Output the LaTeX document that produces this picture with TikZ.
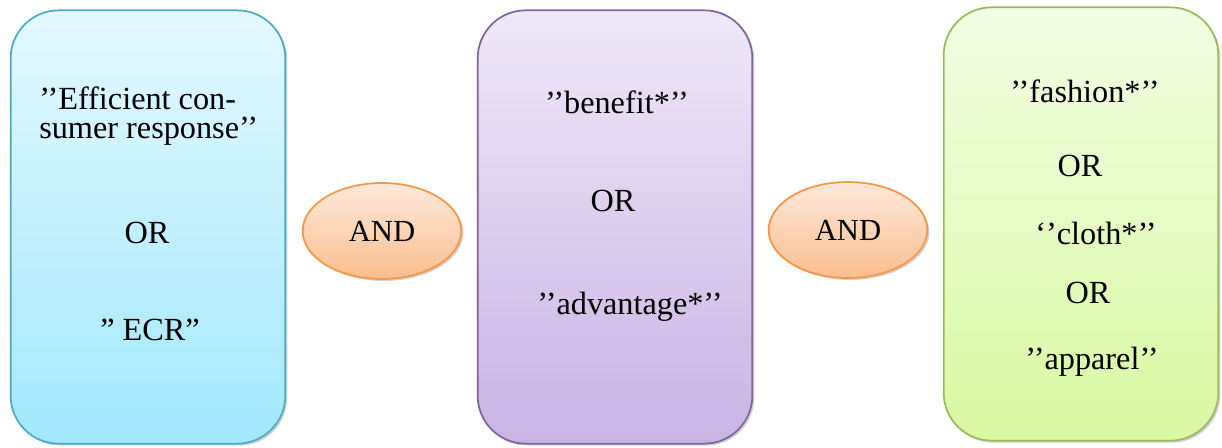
\documentclass[tikz,border=0pt]{standalone}
\usepackage{fontspec}
\setmainfont{Liberation Serif}
\usetikzlibrary{shapes.geometric,shadows}
\definecolor{bAtop}{HTML}{E4F8FE}
\definecolor{bAbot}{HTML}{A2E8FC}
\definecolor{bAline}{HTML}{4BACC6}
\definecolor{bBtop}{HTML}{EEE8F7}
\definecolor{bBbot}{HTML}{C8B4E3}
\definecolor{bBline}{HTML}{8064A2}
\definecolor{bCtop}{HTML}{F3FDE4}
\definecolor{bCbot}{HTML}{D9F8A2}
\definecolor{bCline}{HTML}{9BBB59}
\definecolor{elTop}{HTML}{FEE9DA}
\definecolor{elBot}{HTML}{FBBE8E}
\definecolor{elLine}{HTML}{F79646}
\tikzset{
  termbox/.style={draw, line width=1.3pt, rounded corners=36pt,
    minimum width=206pt, minimum height=325pt, inner sep=0pt,
    drop shadow={shadow xshift=1.5pt, shadow yshift=-1.5pt, opacity=0.35}},
  andnode/.style={ellipse, draw=elLine, line width=1.3pt, top color=elTop, bottom color=elBot,
    minimum width=119pt, minimum height=72pt, inner sep=0pt, font=\fontsize{23}{27}\selectfont,
    drop shadow={shadow xshift=1.5pt, shadow yshift=-1.5pt, opacity=0.35}},
  txt/.style={font=\fontsize{24.2}{29}\selectfont, inner sep=0pt}
}
\begin{document}
\begin{tikzpicture}[x=0.75pt,y=-0.75pt]
\useasboundingbox (0,0) rectangle (1222,447);
\fill[white] (0,0) rectangle (1222,447);
% boxes
\node[termbox, draw=bAline, top color=bAtop, bottom color=bAbot] (boxA) at (148,227) {};
\node[termbox, draw=bBline, top color=bBtop, bottom color=bBbot] (boxB) at (615,227) {};
\node[termbox, draw=bCline, top color=bCtop, bottom color=bCbot] (boxC) at (1081,224) {};
% AND ellipses
\node[andnode] (and1) at (382,231) {AND};
\node[andnode] (and2) at (848,230) {AND};
% box A text
\node[txt, anchor=west] (a1) at (39,98) {’’Efficient con-};
\node[txt, anchor=west] (a2) at (39,131) {sumer response’’};
\node[txt] (a3) at (147,233) {OR};
\node[txt] (a4) at (150,330) {” ECR”};
% box B text
\node[txt] (b1) at (617,102) {’’benefit*’’};
\node[txt] (b2) at (613,201) {OR};
\node[txt] (b3) at (630,307) {’’advantage*’’};
% box C text
\node[txt] (c1) at (1085,91) {’’fashion*’’};
\node[txt] (c2) at (1080,166) {OR};
\node[txt] (c3) at (1096,233) {‘’cloth*’’};
\node[txt] (c4) at (1088,293) {OR};
\node[txt] (c5) at (1092,362) {’’apparel’’};
\end{tikzpicture}
\end{document}
